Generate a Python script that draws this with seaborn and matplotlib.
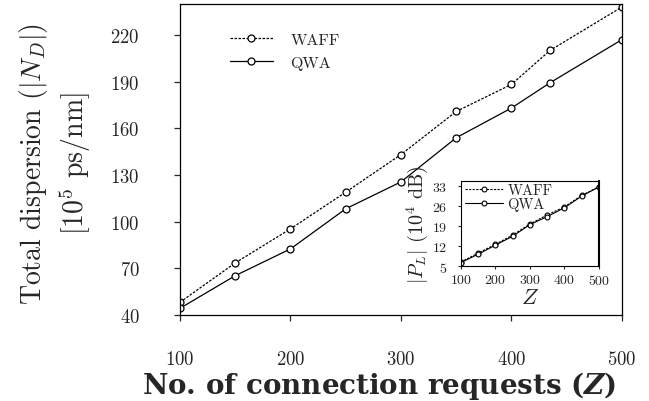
import matplotlib
matplotlib.use("Agg")
import matplotlib.pyplot as plt
import seaborn as sns
import pandas as pd

# main panel: total dispersion vs number of requests
z_main = [100, 150, 200, 250, 300, 350, 400, 435, 500]
waff_nd = [48.2, 73.5, 95.4, 119.0, 143.2, 170.9, 188.3, 210.2, 238.1]
qwa_nd = [44.3, 65.3, 82.5, 108.3, 125.6, 154.0, 173.1, 189.4, 217.1]

# inset: power loss
z_inset = [100, 150, 200, 250, 300, 350, 400, 450, 500]
waff_pl = [6.5, 9.6, 12.7, 15.9, 19.8, 23.0, 25.8, 29.8, 32.9]
qwa_pl = [6.3, 9.2, 12.4, 15.5, 19.6, 22.4, 25.5, 29.6, 32.8]

main_ticks_x = [100, 200, 300, 400, 500]
main_ticks_y = [40, 70, 100, 130, 160, 190, 220]
inset_ticks_y = [5, 12, 19, 26, 33]

sns.set_style("ticks")
plt.rcParams["font.family"] = ["cmr10", "DejaVu Serif"]
plt.rcParams["mathtext.fontset"] = "cm"
plt.rcParams["axes.formatter.use_mathtext"] = True
plt.rcParams["axes.unicode_minus"] = False

fig = plt.figure(figsize=(6.49, 4.02), dpi=100)
ax = fig.add_axes([0.2773, 0.2139, 0.6811, 0.7737])

main_df = pd.DataFrame({"Z": z_main, "WAFF": waff_nd, "QWA": qwa_nd})
line_kw = dict(color="black", marker="o", markersize=5, markerfacecolor="white",
               markeredgecolor="black", markeredgewidth=0.9, linewidth=0.9)
sns.lineplot(data=main_df, x="Z", y="WAFF", ax=ax, linestyle=(0, (2, 1.2)),
             label="WAFF", **line_kw)
sns.lineplot(data=main_df, x="Z", y="QWA", ax=ax, linestyle="-",
             label="QWA", **line_kw)

ax.set_xlim(100, 500)
ax.set_ylim(40, 240)
ax.set_xticks(main_ticks_x)
ax.set_yticks(main_ticks_y)
ax.tick_params(axis="both", labelsize=13.5, length=4, width=0.9, direction="out")
ax.tick_params(axis="x", pad=21)
ax.tick_params(axis="y", pad=25)
for s in ax.spines.values():
    s.set_linewidth(0.9)
    s.set_color("black")

ax.set_xlabel(r"No. of connection requests ($\mathbfit{Z}$)", fontsize=20,
              fontfamily=["DejaVu Serif"], fontweight="bold", va="center",
              math_fontfamily="dejavuserif")
ax.xaxis.set_label_coords(0.45, -0.225)
ax.set_ylabel("Total dispersion ($|N_D|$)\n[$10^5$ ps/nm]", fontsize=20,
              va="center", multialignment="center", linespacing=1.3)
ax.yaxis.set_label_coords(-0.283, 0.49)

ax.legend(loc="upper left", bbox_to_anchor=(0.08, 0.955), frameon=False,
          fontsize=11.5, handlelength=2.7, labelspacing=0.55, handletextpad=1.1)

# inset
ins = fig.add_axes([0.7099, 0.335, 0.2131, 0.2115])
inset_df = pd.DataFrame({"Z": z_inset, "WAFF": waff_pl, "QWA": qwa_pl})
in_kw = dict(color="black", marker="o", markersize=3.5, markerfacecolor="white",
             markeredgecolor="black", markeredgewidth=0.8, linewidth=0.8)
sns.lineplot(data=inset_df, x="Z", y="WAFF", ax=ins, linestyle=(0, (2, 1.2)),
             label="WAFF", **in_kw)
sns.lineplot(data=inset_df, x="Z", y="QWA", ax=ins, linestyle="-",
             label="QWA", **in_kw)
ins.set_xlim(100, 500)
ins.set_ylim(5, 34.75)
ins.set_xticks(main_ticks_x)
ins.set_yticks(inset_ticks_y)
ins.tick_params(axis="both", labelsize=10, length=2, width=0.8, pad=3)
ins.tick_params(axis="y", pad=8)
for s in ins.spines.values():
    s.set_linewidth(0.8)
    s.set_color("black")
ins.spines["right"].set_linewidth(1.5)
ins.set_xlabel("$Z$", fontsize=16, labelpad=0)
ins.set_ylabel("$|P_L|$ ($10^4$ dB)", fontsize=14.5, labelpad=1)
ins.legend(loc="upper left", bbox_to_anchor=(-0.03, 1.08), frameon=False,
           fontsize=10.5, handlelength=2.6, labelspacing=0.0, handletextpad=0.3,
           borderaxespad=0.2)

fig.savefig("out.png", dpi=100)
plt.close(fig)
